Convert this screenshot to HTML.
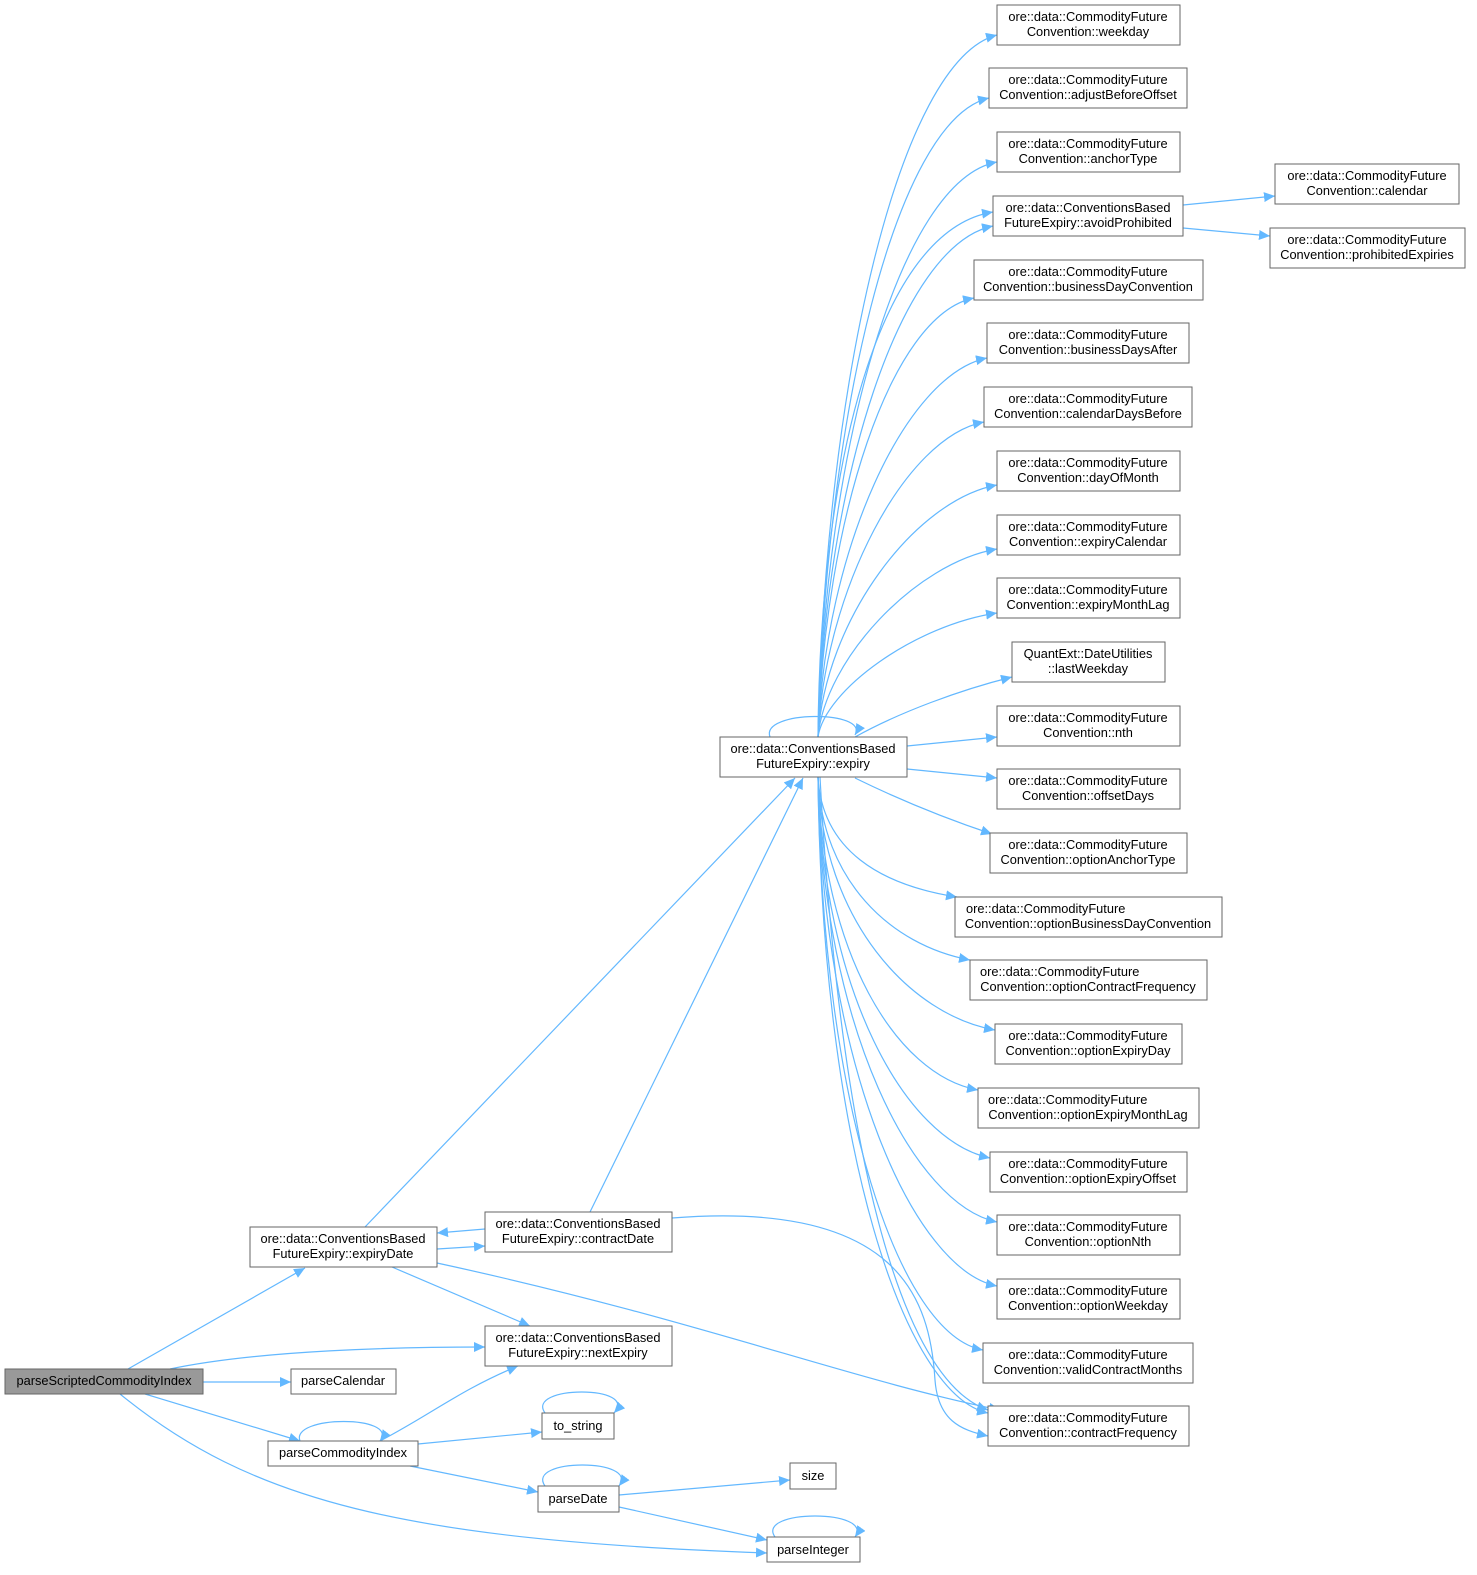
<!DOCTYPE html>
<html><head><meta charset="utf-8"><style>
html,body{margin:0;padding:0;background:#fff}
svg{display:block}
text{font-family:"Liberation Sans",Arial,sans-serif;font-size:12.8px;fill:#000}
.n{fill:#fff;stroke:#666;stroke-width:1}
.e{fill:none;stroke:#63b8ff;stroke-width:1.2}
</style></head><body>
<svg width="1477" height="1575" viewBox="0 0 1477 1575" xmlns="http://www.w3.org/2000/svg">
<defs><marker id="a" markerUnits="userSpaceOnUse" markerWidth="12" markerHeight="10" refX="11" refY="5" orient="auto"><path d="M0,0 L11,5 L0,10 z" fill="#63b8ff"/></marker></defs>
<g class="e" marker-end="url(#a)">
<path d="M818,737 C825,380 900,60 997,35"/>
<path d="M818,737 C825,420 895,120 989,98"/>
<path d="M818,737 C825,450 900,180 997,162"/>
<path d="M818,737 C825,480 900,245 993,226"/>
<path d="M818,737 C820,460 880,230 993,212"/>
<path d="M818,737 C825,520 890,315 974,298"/>
<path d="M818,737 C825,550 905,375 987,358"/>
<path d="M818,737 C825,590 905,437 984,422"/>
<path d="M818,737 C825,620 915,500 997,485"/>
<path d="M818,737 C825,660 915,563 997,549"/>
<path d="M818,737 C825,690 915,625 997,613"/>
<path d="M855,737 C900,712 960,690 1012,677"/>
<path d="M907,746 L997,737"/>
<path d="M907,769 L997,778"/>
<path d="M855,778 C900,800 950,820 992,834"/>
<path d="M818,777 C822,850 880,885 957,897"/>
<path d="M818,777 C822,880 890,945 970,960"/>
<path d="M818,777 C822,920 910,1015 995,1030"/>
<path d="M818,777 C822,950 895,1075 978,1090"/>
<path d="M818,777 C822,990 905,1140 990,1158"/>
<path d="M818,777 C822,1030 915,1205 997,1222"/>
<path d="M818,777 C822,1070 915,1270 997,1286"/>
<path d="M818,777 C822,1110 900,1335 983,1350"/>
<path d="M818,777 C822,1150 905,1395 988,1413"/>
<path d="M820,777 C840,1150 900,1380 988,1410"/>
<path d="M770,737 C760,710 870,710 855,735"/>
<path d="M1183,205 L1275,196"/>
<path d="M1183,228 L1270,236"/>
<path d="M365,1227 L795,778"/>
<path d="M590,1212 L803,778"/>
<path d="M437,1249 L485,1246"/>
<path d="M485,1229 L437,1233"/>
<path d="M672,1218 C900,1200 930,1300 935,1380 C938,1420 960,1430 988,1436"/>
<path d="M392,1267 L530,1326"/>
<path d="M437,1263 C700,1320 850,1380 1000,1410"/>
<path d="M128,1369 L305,1268"/>
<path d="M170,1369 C260,1350 400,1347 485,1347"/>
<path d="M203,1382 L291,1382"/>
<path d="M145,1394 L300,1441"/>
<path d="M120,1394 C250,1500 400,1540 767,1553"/>
<path d="M380,1441 C430,1415 460,1390 518,1366"/>
<path d="M300,1441 C290,1415 400,1415 380,1441"/>
<path d="M418,1444 L542,1432"/>
<path d="M410,1466 L538,1492"/>
<path d="M619,1495 L790,1480"/>
<path d="M619,1507 L767,1540"/>
<path d="M545,1413 C525,1385 640,1385 614,1413"/>
<path d="M545,1486 C525,1458 640,1458 619,1486"/>
<path d="M775,1537 C755,1509 875,1509 855,1537"/>
</g>
<g>
<rect class="n" x="997" y="5" width="183" height="40"/><text x="1088" y="21" text-anchor="middle">ore::data::CommodityFuture</text><text x="1088" y="36" text-anchor="middle">Convention::weekday</text>
<rect class="n" x="989" y="68" width="198" height="40"/><text x="1088" y="84" text-anchor="middle">ore::data::CommodityFuture</text><text x="1088" y="99" text-anchor="middle">Convention::adjustBeforeOffset</text>
<rect class="n" x="997" y="132" width="183" height="40"/><text x="1088" y="148" text-anchor="middle">ore::data::CommodityFuture</text><text x="1088" y="163" text-anchor="middle">Convention::anchorType</text>
<rect class="n" x="993" y="196" width="190" height="40"/><text x="1088" y="212" text-anchor="middle">ore::data::ConventionsBased</text><text x="1088" y="227" text-anchor="middle">FutureExpiry::avoidProhibited</text>
<rect class="n" x="974" y="260" width="229" height="40"/><text x="1088" y="276" text-anchor="middle">ore::data::CommodityFuture</text><text x="1088" y="291" text-anchor="middle">Convention::businessDayConvention</text>
<rect class="n" x="987" y="323" width="202" height="40"/><text x="1088" y="339" text-anchor="middle">ore::data::CommodityFuture</text><text x="1088" y="354" text-anchor="middle">Convention::businessDaysAfter</text>
<rect class="n" x="984" y="387" width="208" height="40"/><text x="1088" y="403" text-anchor="middle">ore::data::CommodityFuture</text><text x="1088" y="418" text-anchor="middle">Convention::calendarDaysBefore</text>
<rect class="n" x="997" y="451" width="183" height="40"/><text x="1088" y="467" text-anchor="middle">ore::data::CommodityFuture</text><text x="1088" y="482" text-anchor="middle">Convention::dayOfMonth</text>
<rect class="n" x="997" y="515" width="183" height="40"/><text x="1088" y="531" text-anchor="middle">ore::data::CommodityFuture</text><text x="1088" y="546" text-anchor="middle">Convention::expiryCalendar</text>
<rect class="n" x="997" y="578" width="183" height="40"/><text x="1088" y="594" text-anchor="middle">ore::data::CommodityFuture</text><text x="1088" y="609" text-anchor="middle">Convention::expiryMonthLag</text>
<rect class="n" x="1012" y="642" width="153" height="40"/><text x="1088" y="658" text-anchor="middle">QuantExt::DateUtilities</text><text x="1088" y="673" text-anchor="middle">::lastWeekday</text>
<rect class="n" x="997" y="706" width="183" height="40"/><text x="1088" y="722" text-anchor="middle">ore::data::CommodityFuture</text><text x="1088" y="737" text-anchor="middle">Convention::nth</text>
<rect class="n" x="997" y="769" width="183" height="40"/><text x="1088" y="785" text-anchor="middle">ore::data::CommodityFuture</text><text x="1088" y="800" text-anchor="middle">Convention::offsetDays</text>
<rect class="n" x="990" y="833" width="197" height="40"/><text x="1088" y="849" text-anchor="middle">ore::data::CommodityFuture</text><text x="1088" y="864" text-anchor="middle">Convention::optionAnchorType</text>
<rect class="n" x="955" y="897" width="267" height="40"/><text x="966" y="913">ore::data::CommodityFuture</text><text x="1088" y="928" text-anchor="middle">Convention::optionBusinessDayConvention</text>
<rect class="n" x="970" y="960" width="237" height="40"/><text x="980" y="976">ore::data::CommodityFuture</text><text x="1088" y="991" text-anchor="middle">Convention::optionContractFrequency</text>
<rect class="n" x="995" y="1024" width="187" height="40"/><text x="1088" y="1040" text-anchor="middle">ore::data::CommodityFuture</text><text x="1088" y="1055" text-anchor="middle">Convention::optionExpiryDay</text>
<rect class="n" x="978" y="1088" width="221" height="40"/><text x="988" y="1104">ore::data::CommodityFuture</text><text x="1088" y="1119" text-anchor="middle">Convention::optionExpiryMonthLag</text>
<rect class="n" x="990" y="1152" width="197" height="40"/><text x="1088" y="1168" text-anchor="middle">ore::data::CommodityFuture</text><text x="1088" y="1183" text-anchor="middle">Convention::optionExpiryOffset</text>
<rect class="n" x="997" y="1215" width="183" height="40"/><text x="1088" y="1231" text-anchor="middle">ore::data::CommodityFuture</text><text x="1088" y="1246" text-anchor="middle">Convention::optionNth</text>
<rect class="n" x="997" y="1279" width="183" height="40"/><text x="1088" y="1295" text-anchor="middle">ore::data::CommodityFuture</text><text x="1088" y="1310" text-anchor="middle">Convention::optionWeekday</text>
<rect class="n" x="983" y="1343" width="210" height="40"/><text x="1088" y="1359" text-anchor="middle">ore::data::CommodityFuture</text><text x="1088" y="1374" text-anchor="middle">Convention::validContractMonths</text>
<rect class="n" x="988" y="1406" width="201" height="40"/><text x="1088" y="1422" text-anchor="middle">ore::data::CommodityFuture</text><text x="1088" y="1437" text-anchor="middle">Convention::contractFrequency</text>
<rect class="n" x="1275" y="164" width="184" height="40"/><text x="1367" y="180" text-anchor="middle">ore::data::CommodityFuture</text><text x="1367" y="195" text-anchor="middle">Convention::calendar</text>
<rect class="n" x="1270" y="228" width="195" height="40"/><text x="1367" y="244" text-anchor="middle">ore::data::CommodityFuture</text><text x="1367" y="259" text-anchor="middle">Convention::prohibitedExpiries</text>
<rect class="n" x="720" y="737" width="187" height="40"/><text x="813" y="753" text-anchor="middle">ore::data::ConventionsBased</text><text x="813" y="768" text-anchor="middle">FutureExpiry::expiry</text>
<rect class="n" x="250" y="1227" width="187" height="40"/><text x="343" y="1243" text-anchor="middle">ore::data::ConventionsBased</text><text x="343" y="1258" text-anchor="middle">FutureExpiry::expiryDate</text>
<rect class="n" x="485" y="1212" width="187" height="40"/><text x="578" y="1228" text-anchor="middle">ore::data::ConventionsBased</text><text x="578" y="1243" text-anchor="middle">FutureExpiry::contractDate</text>
<rect class="n" x="485" y="1326" width="187" height="40"/><text x="578" y="1342" text-anchor="middle">ore::data::ConventionsBased</text><text x="578" y="1357" text-anchor="middle">FutureExpiry::nextExpiry</text>
<rect x="5" y="1369" width="198" height="25" fill="#999" stroke="#666"/><text x="104" y="1385" text-anchor="middle">parseScriptedCommodityIndex</text>
<rect class="n" x="291" y="1369" width="105" height="25"/><text x="343" y="1385" text-anchor="middle">parseCalendar</text>
<rect class="n" x="268" y="1441" width="150" height="25"/><text x="343" y="1457" text-anchor="middle">parseCommodityIndex</text>
<rect class="n" x="542" y="1413" width="72" height="26"/><text x="578" y="1430" text-anchor="middle">to_string</text>
<rect class="n" x="790" y="1463" width="46" height="26"/><text x="813" y="1480" text-anchor="middle">size</text>
<rect class="n" x="538" y="1486" width="81" height="26"/><text x="578" y="1503" text-anchor="middle">parseDate</text>
<rect class="n" x="767" y="1537" width="93" height="25"/><text x="813" y="1554" text-anchor="middle">parseInteger</text>
</g>
</svg>
</body></html>
